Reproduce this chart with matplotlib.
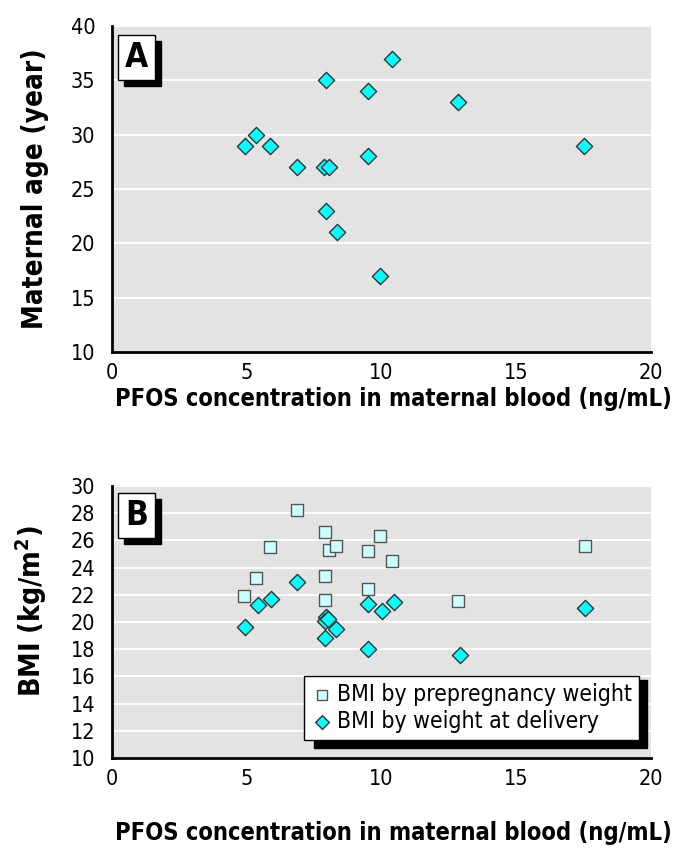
import matplotlib.pyplot as plt
from matplotlib import font_manager
from matplotlib.patches import Rectangle

# pick a narrow font if there is one
names = {f.name for f in font_manager.fontManager.ttflist}
narrow = [n for n in ['Liberation Sans Narrow', 'DejaVu Sans Condensed'] if n in names]
stretch = 'normal'
if narrow:
    plt.rcParams['font.family'] = [narrow[0], 'DejaVu Sans']
else:
    plt.rcParams['font.family'] = ['DejaVu Sans']
    stretch = 'condensed'
plt.rcParams['font.stretch'] = stretch
plt.rcParams['mathtext.default'] = 'regular'

# panel A: maternal age vs PFOS
pfos_a = [4.95, 5.35, 5.85, 6.85, 7.85, 8.05, 7.95, 7.95, 8.35, 9.5, 9.5, 9.95, 10.4, 12.85, 17.5]
age_a = [29, 30, 29, 27, 27, 27, 35, 23, 21, 34, 28, 17, 37, 33, 29]

# panel B: BMI vs PFOS
pfos_pre = [6.85, 7.9, 9.95, 5.85, 8.05, 8.3, 9.5, 10.4, 17.55, 5.35, 7.9, 4.9, 9.5, 7.9, 12.85]
bmi_pre = [28.25, 26.6, 26.3, 25.5, 25.3, 25.6, 25.2, 24.45, 25.6, 23.25, 23.35, 21.9, 22.4, 21.6, 21.55]
pfos_del = [6.85, 5.4, 5.9, 4.95, 9.5, 10.0, 10.45, 17.55, 7.95, 7.9, 8.0, 8.3, 7.9, 9.5, 12.9]
bmi_del = [22.95, 21.25, 21.7, 19.65, 21.35, 20.8, 21.5, 21.0, 20.4, 20.05, 20.2, 19.45, 18.8, 18.05, 17.6]

xlabel = 'PFOS concentration in maternal blood (ng/mL)'

W, H = 688, 865
fig = plt.figure(figsize=(6.88, 8.65), dpi=100)
axA = fig.add_axes([112 / W, 1 - 352 / H, 539 / W, 326 / H])
axB = fig.add_axes([112 / W, 1 - 758 / H, 539 / W, 272 / H])


def style(ax, ymin, ymax, step):
    ax.set_facecolor('#e3e3e3')
    ax.set_xlim(0, 20)
    ax.set_ylim(ymin, ymax)
    ax.set_xticks([0, 5, 10, 15, 20])
    ax.set_yticks(range(ymin, ymax + 1, step))
    ax.grid(axis='y', color='white', linewidth=1.3)
    ax.set_axisbelow(True)
    for s in ['top', 'right']:
        ax.spines[s].set_visible(False)
    for s in ['left', 'bottom']:
        ax.spines[s].set_linewidth(2)
    ax.tick_params(length=0, labelsize=15.5, pad=12)
    ax.tick_params(axis='x', pad=8)
    ax.set_xlabel(xlabel, fontsize=17, fontweight='bold', va='center')


style(axA, 10, 40, 5)
style(axB, 10, 30, 2)
# x label centres (figure pixels): A at y=399, B at y=833
axA.xaxis.set_label_coords(0.523, -(399 - 352) / 326)
axB.xaxis.set_label_coords(0.523, -(833 - 758) / 272)

axA.scatter(pfos_a, age_a, marker='D', s=68, color='#00ffff', edgecolor='#333333', linewidth=1, zorder=3)
axA.set_ylabel('Maternal age (year)', fontsize=20, fontweight='bold')
axA.yaxis.set_label_coords(-(112 - 49) / 539, 0.5)

axB.scatter(pfos_pre, bmi_pre, marker='s', s=80, color='#ccffff', edgecolor='#555555', linewidth=1,
            zorder=3, label='BMI by prepregnancy weight')
axB.scatter(pfos_del, bmi_del, marker='D', s=68, color='#00ffff', edgecolor='#333333', linewidth=1,
            zorder=3, label='BMI by weight at delivery')
axB.set_ylabel(r'BMI (kg/m$^{\mathbf{2}}$)', fontsize=20.5, fontweight='bold')
axB.yaxis.set_label_coords(-(112 - 49) / 539, 0.54)


def px_rect(ax, x0, y0, w, h, **kw):
    # rectangle given in figure pixels from the top-left corner
    r = Rectangle((x0 / W, 1 - (y0 + h) / H), w / W, h / H, transform=fig.transFigure,
                  clip_on=False, **kw)
    ax.add_patch(r)


# panel letters in boxes with shadows
for ax, y0, letter in [(axA, 35, 'A'), (axB, 493, 'B')]:
    x0, w, h = 118, 37, 45
    px_rect(ax, x0 + 6, y0 + 6, w, h, facecolor='black', edgecolor='black', zorder=5)
    px_rect(ax, x0, y0, w, h, facecolor='white', edgecolor='black', linewidth=1, zorder=6)
    ax.text((x0 + w / 2) / W, 1 - (y0 + h / 2) / H, letter, transform=fig.transFigure,
            ha='center', va='center', fontsize=24, fontweight='bold', zorder=7)

# legend with shadow
px_rect(axB, 314, 680, 333, 68, facecolor='black', edgecolor='black', zorder=5)
leg = axB.legend(loc='lower right', bbox_to_anchor=(639 / W, 1 - 740 / H), bbox_transform=fig.transFigure,
                 fontsize=16.5, frameon=True, fancybox=False, framealpha=1, edgecolor='black',
                 handletextpad=0.15, handlelength=1.0, borderpad=0.3, labelspacing=0.2,
                 borderaxespad=0, markerscale=0.85)
leg.get_frame().set_linewidth(1)
leg.set_zorder(8)

fig.savefig('out.png', dpi=100)
